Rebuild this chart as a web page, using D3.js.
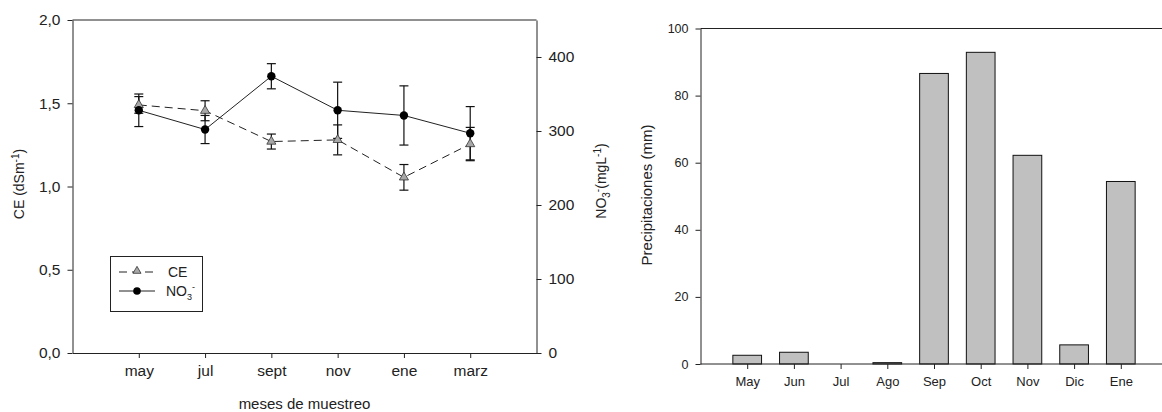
<!DOCTYPE html>
<html>
<head>
<meta charset="utf-8">
<script src="https://cdn.jsdelivr.net/npm/d3@7/dist/d3.min.js"></script>
<style>
  body { margin: 0; background: #fff; }
  svg { display: block; font-family: "Liberation Sans", Arial, sans-serif; }
  .axis path, .axis line { stroke: #222; }
  .axis text { fill: #222; }
</style>
</head>
<body>
<svg id="chart" width="1162" height="412"></svg>
<script>
// --- left chart data ---
const meses = ["may", "jul", "sept", "nov", "ene", "marz"];
const ce = [1.49, 1.455, 1.27, 1.28, 1.055, 1.255];
const ceErr = [0.05, 0.06, 0.045, 0.09, 0.077, 0.1];
const no3 = [328, 302, 374, 328, 321, 297];
const no3Err = [22, 19, 17, 38, 40, 36];
const ceTicks = [0, 0.5, 1, 1.5, 2];
const no3Ticks = [0, 100, 200, 300, 400];

// --- right chart data ---
const mesesLluvia = ["May", "Jun", "Jul", "Ago", "Sep", "Oct", "Nov", "Dic", "Ene"];
const precip = [2.6, 3.5, 0, 0.4, 86.6, 92.9, 62.2, 5.7, 54.4];
const precipTicks = [0, 20, 40, 60, 80, 100];

const svg = d3.select("#chart");
const fmtComma = d => d3.format(".1f")(d).replace(".", ",");

// ================= LEFT CHART =================
const L = { left: 72.5, right: 536.5, top: 20, bottom: 353 };
const x1 = d3.scaleLinear().domain([0, meses.length + 1]).range([L.left, L.right]);
const yCE = d3.scaleLinear().domain([0, 2]).range([L.bottom, L.top]);
const yNO3 = d3.scaleLinear().domain([0, 450]).range([L.bottom, L.top]);

const g1 = svg.append("g");

// frame top line
g1.append("line").attr("x1", L.left).attr("x2", L.right).attr("y1", L.top).attr("y2", L.top)
  .attr("stroke", "#222");

g1.append("g").attr("class", "axis").attr("transform", `translate(${L.left},0)`)
  .call(d3.axisLeft(yCE).tickValues(ceTicks).tickFormat(fmtComma).tickSize(5).tickPadding(7).tickSizeOuter(0))
  .call(s => s.selectAll("text").attr("font-size", 15.5));

g1.append("g").attr("class", "axis").attr("transform", `translate(${L.right},0)`)
  .call(d3.axisRight(yNO3).tickValues(no3Ticks).tickSize(5).tickPadding(7).tickSizeOuter(0))
  .call(s => s.selectAll("text").attr("font-size", 15.5));

g1.append("g").attr("class", "axis").attr("transform", `translate(0,${L.bottom})`)
  .call(d3.axisBottom(x1).tickValues(d3.range(1, meses.length + 1)).tickFormat(i => meses[i - 1])
    .tickSize(5).tickPadding(7).tickSizeOuter(0))
  .call(s => s.selectAll("text").attr("font-size", 15.5));

// axis titles
g1.append("text").attr("transform", `translate(24,184) rotate(-90)`).attr("text-anchor", "middle")
  .attr("font-size", 14).attr("fill", "#222")
  .html('CE (dSm<tspan dy="-5" font-size="10">-1</tspan><tspan dy="5">)</tspan>');
g1.append("text").attr("transform", `translate(606,181) rotate(-90)`).attr("text-anchor", "middle")
  .attr("font-size", 14).attr("fill", "#222")
  .html('NO<tspan dy="4" font-size="10">3</tspan><tspan dy="-9" font-size="10">-</tspan><tspan dy="5">(mgL</tspan><tspan dy="-5" font-size="10">-1</tspan><tspan dy="5">)</tspan>');
g1.append("text").attr("x", (L.left + L.right) / 2).attr("y", 409).attr("text-anchor", "middle")
  .attr("font-size", 15).attr("fill", "#222").text("meses de muestreo");

const capW = 4.5;
function errorBars(vals, errs, y) {
  const eb = g1.append("g").attr("stroke", "#111").attr("stroke-width", 1.2);
  vals.forEach((v, i) => {
    const cx = x1(i + 1);
    eb.append("line").attr("x1", cx).attr("x2", cx).attr("y1", y(v - errs[i])).attr("y2", y(v + errs[i]));
    [v - errs[i], v + errs[i]].forEach(e => {
      eb.append("line").attr("x1", cx - capW).attr("x2", cx + capW).attr("y1", y(e)).attr("y2", y(e));
    });
  });
}
errorBars(ce, ceErr, yCE);
errorBars(no3, no3Err, yNO3);

const lineCE = d3.line().x((d, i) => x1(i + 1)).y(d => yCE(d));
const lineNO3 = d3.line().x((d, i) => x1(i + 1)).y(d => yNO3(d));

g1.append("path").attr("d", lineCE(ce)).attr("fill", "none").attr("stroke", "#222")
  .attr("stroke-width", 1).attr("stroke-dasharray", "8,5");
g1.append("path").attr("d", lineNO3(no3)).attr("fill", "none").attr("stroke", "#222")
  .attr("stroke-width", 1);

const tri = d3.symbol().type(d3.symbolTriangle).size(36);
g1.selectAll(".tri").data(ce).enter().append("path")
  .attr("transform", (d, i) => `translate(${x1(i + 1)},${yCE(d)})`)
  .attr("d", tri()).attr("fill", "#a8a8a8").attr("stroke", "#333").attr("stroke-width", 0.8);
g1.selectAll(".dot").data(no3).enter().append("circle")
  .attr("cx", (d, i) => x1(i + 1)).attr("cy", d => yNO3(d)).attr("r", 4.2).attr("fill", "#000");

// legend
const lg = g1.append("g");
lg.append("rect").attr("x", 110.5).attr("y", 256.5).attr("width", 92).attr("height", 55)
  .attr("fill", "#fff").attr("stroke", "#222");
lg.append("line").attr("x1", 119).attr("x2", 153).attr("y1", 272).attr("y2", 272)
  .attr("stroke", "#222").attr("stroke-dasharray", "8,5");
lg.append("path").attr("transform", "translate(137,271)").attr("d", d3.symbol().type(d3.symbolTriangle).size(28)())
  .attr("fill", "#a8a8a8").attr("stroke", "#333").attr("stroke-width", 0.8);
lg.append("line").attr("x1", 119).attr("x2", 155).attr("y1", 291).attr("y2", 291).attr("stroke", "#222");
lg.append("circle").attr("cx", 137).attr("cy", 291).attr("r", 3.8).attr("fill", "#000");
lg.append("text").attr("x", 168).attr("y", 277).attr("font-size", 14).attr("fill", "#222").text("CE");
lg.append("text").attr("x", 166).attr("y", 296).attr("font-size", 14).attr("fill", "#222")
  .html('NO<tspan dy="4" font-size="9">3</tspan><tspan dy="-10" font-size="9">-</tspan>');

// ================= RIGHT CHART =================
const R = { left: 700.5, top: 28.5, bottom: 364 };
const x2 = d3.scaleLinear().domain([0, mesesLluvia.length + 1]).range([R.left, R.left + 46.7 * (mesesLluvia.length + 1)]);
const yP = d3.scaleLinear().domain([0, 100]).range([R.bottom, R.top]);
const g2 = svg.append("g");

g2.append("line").attr("x1", R.left).attr("x2", 1162).attr("y1", R.top).attr("y2", R.top).attr("stroke", "#222");

const barW = 28.7;
g2.selectAll(".bar").data(precip).enter().append("rect")
  .attr("x", (d, i) => x2(i + 1) - barW / 2).attr("width", barW)
  .attr("y", d => yP(d)).attr("height", d => yP(0) - yP(d))
  .attr("fill", "#c0c0c0").attr("stroke", "#111").attr("stroke-width", 1)
  .attr("display", d => d > 0 ? null : "none");

g2.append("g").attr("class", "axis").attr("transform", `translate(${R.left},0)`)
  .call(d3.axisLeft(yP).tickValues(precipTicks).tickSize(5).tickPadding(7).tickSizeOuter(0))
  .call(s => s.selectAll("text").attr("font-size", 12.5));

g2.append("g").attr("class", "axis").attr("transform", `translate(0,${R.bottom})`)
  .call(d3.axisBottom(x2).tickValues(d3.range(1, mesesLluvia.length + 1)).tickFormat(i => mesesLluvia[i - 1])
    .tickSize(5).tickPadding(8).tickSizeOuter(0))
  .call(s => s.selectAll("text").attr("font-size", 13))
  .call(s => s.select(".domain").attr("d", `M${R.left},0H1162`));

g2.append("text").attr("transform", `translate(652,195) rotate(-90)`).attr("text-anchor", "middle")
  .attr("font-size", 15).attr("fill", "#222").text("Precipitaciones (mm)");
</script>
</body>
</html>
